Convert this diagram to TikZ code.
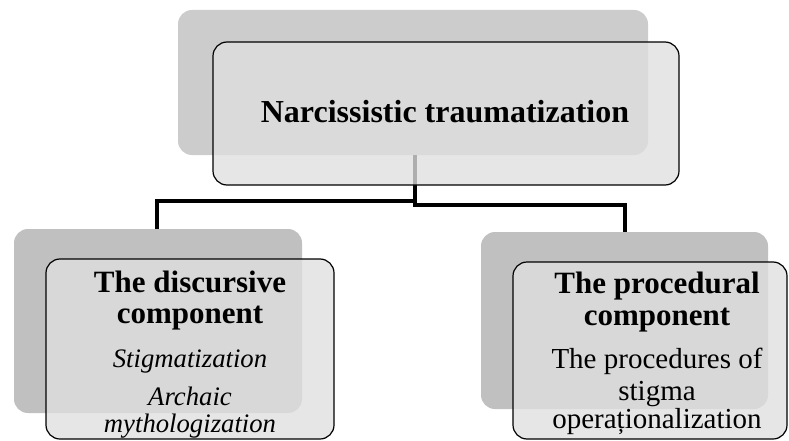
\documentclass[tikz,border=0pt]{standalone}
\usepackage{fontspec}
\setmainfont{Liberation Serif}
\begin{document}
\begin{tikzpicture}[x=1pt,y=-1pt,
  backbox/.style={fill=#1,draw=none,rounded corners=14pt},
  frontbox/.style={fill=frontgray,fill opacity=0.78,draw=black,line width=1.2pt,rounded corners=14pt},
  conn/.style={draw=black,line width=3.3pt},
  headtxt/.style={font=\fontsize{31}{31}\selectfont\bfseries,anchor=base,inner sep=0pt},
  ittxt/.style={font=\fontsize{26.7}{26.7}\selectfont\itshape,anchor=base,inner sep=0pt},
  rmtxt/.style={font=\fontsize{29}{29}\selectfont,anchor=base,inner sep=0pt}]
\definecolor{frontgray}{RGB}{223,223,223}
\definecolor{topgray}{RGB}{204,204,204}
\definecolor{lowgray}{RGB}{192,192,192}
\useasboundingbox (0,0) rectangle (789,441);
% back boxes
\path[backbox=topgray] (178,10) rectangle (648,155);
\coordinate (topbacks) at (413,155);
\path[backbox=lowgray] (14,229) rectangle (302,413);
\coordinate (leftbackn) at (157,229);
\path[backbox=lowgray] (481,232) rectangle (768,409);
\coordinate (rightbackn) at (625,232);
% connectors
\coordinate (jl) at (415,201);
\coordinate (jr) at (415,205);
\draw[conn] (topbacks -| jl) -- (jl) -| (leftbackn);
\draw[conn] (topbacks -| jr) -- (jr) -| (rightbackn);
% front boxes
\path[frontbox] (213,42) rectangle (679,185);
\path[frontbox] (46,259) rectangle (334,439);
\path[frontbox] (513,262) rectangle (787,439);
% texts
\node[headtxt,font=\fontsize{32}{32}\selectfont\bfseries] (title) at (445,123) {Narcissistic traumatization};
\node[headtxt] (l1) at (190,292) {The discursive};
\node[headtxt] (l2) at (190,323) {component};
\node[ittxt] (l3) at (190,367) {Stigmatization};
\node[ittxt] (l4) at (190,405) {Archaic};
\node[ittxt] (l5) at (190,432) {mythologization};
\node[headtxt] (r1) at (657,293) {The procedural};
\node[headtxt] (r2) at (657,325) {component};
\node[rmtxt] (r3) at (657,368) {The procedures of};
\node[rmtxt] (r4) at (657,400) {stigma};
\node[rmtxt] (r5) at (657,428) {operaționalization};
\end{tikzpicture}
\end{document}
